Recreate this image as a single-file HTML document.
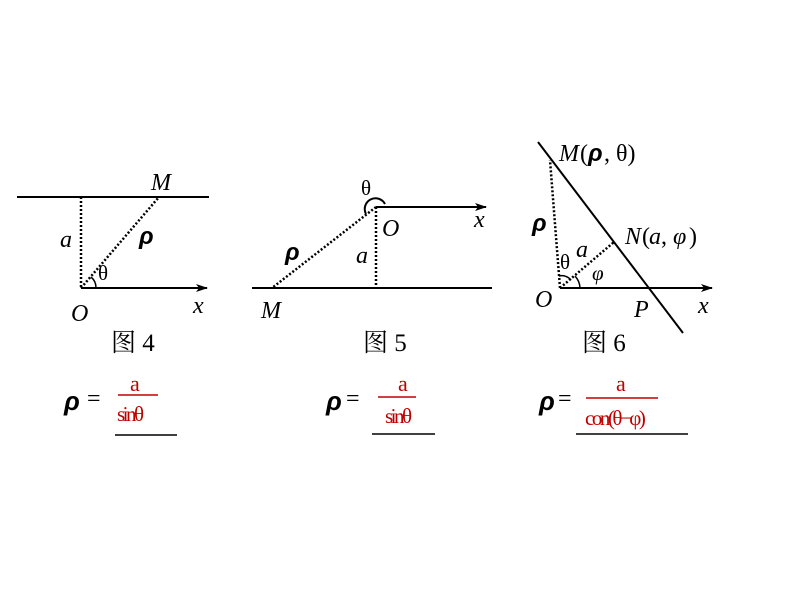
<!DOCTYPE html>
<html><head><meta charset="utf-8"><style>
html,body{margin:0;padding:0;background:#fff;}
svg{display:block;}
text{font-family:"Liberation Serif","Noto Serif CJK SC",serif;}
.i{font-style:italic;}
.r{fill:#c00000;}
.p{font-family:"Liberation Sans",sans-serif;font-weight:bold;font-style:italic;}
</style></head><body>
<svg width="794" height="596" viewBox="0 0 794 596" xmlns="http://www.w3.org/2000/svg">
<defs><marker id="ar" markerWidth="12" markerHeight="8" refX="11" refY="4" orient="auto" markerUnits="userSpaceOnUse"><path d="M0,0 L12,4 L0,8 L3,4 Z" fill="#000"/></marker></defs>
<g stroke="#000" stroke-width="2" fill="none">
<line x1="17" y1="197" x2="209" y2="197"/>
<line x1="81" y1="288" x2="207" y2="288" marker-end="url(#ar)"/>
<line x1="81" y1="197" x2="81" y2="288" stroke-dasharray="2,2" stroke-width="2.5"/>
<line x1="81" y1="288" x2="159" y2="197" stroke-dasharray="2,2" stroke-width="2.5"/>
<path d="M91,277 A14,14 0 0 1 96,288" stroke-width="1.5"/>
<line x1="252" y1="288" x2="492" y2="288"/>
<line x1="376" y1="207" x2="486" y2="207" marker-end="url(#ar)"/>
<line x1="376" y1="207" x2="376" y2="288" stroke-dasharray="2,2" stroke-width="2.5"/>
<line x1="376" y1="207" x2="272" y2="288" stroke-dasharray="2,2" stroke-width="2.5"/>
<path d="M366,214 A10,10 0 0 1 385,204" stroke-width="2"/>
<line x1="538" y1="142" x2="683" y2="333"/>
<line x1="560" y1="288" x2="712" y2="288" marker-end="url(#ar)"/>
<line x1="560" y1="288" x2="550" y2="160" stroke-dasharray="2,2" stroke-width="2.5"/>
<line x1="560" y1="288" x2="614" y2="242" stroke-dasharray="2,2" stroke-width="2.5"/>
<path d="M559,276 A12,12 0 0 1 571,280" stroke-width="1.5"/>
<path d="M575,276 A19,19 0 0 1 580,288" stroke-width="1.5"/>
<line x1="118" y1="395" x2="158" y2="395" stroke="#c00000" stroke-width="1.5"/>
<line x1="115" y1="435" x2="177" y2="435" stroke-width="1.5"/>
<line x1="378" y1="397" x2="416" y2="397" stroke="#c00000" stroke-width="1.5"/>
<line x1="372" y1="434" x2="435" y2="434" stroke-width="1.5"/>
<line x1="586" y1="398" x2="658" y2="398" stroke="#c00000" stroke-width="1.5"/>
<line x1="576" y1="434" x2="688" y2="434" stroke-width="1.5"/>
</g>
<g font-size="24">
<text x="151" y="190" class="i">M</text>
<text x="60" y="247" class="i">a</text>
<text x="139" y="244" class="p">ρ</text>
<text x="98" y="280" font-size="21">θ</text>
<text x="71" y="321" class="i">O</text>
<text x="193" y="313" class="i">x</text>
<text x="111" y="351" font-size="25">图 4</text>
<text x="64" y="410" font-size="26" class="p">ρ</text><text x="87" y="406">=</text>
<text x="130" y="391" class="r" font-size="22">a</text>
<text x="117" y="421" class="r" font-size="21" letter-spacing="-2.5">sinθ</text>

<text x="361" y="195" font-size="21">θ</text>
<text x="382" y="236" class="i">O</text>
<text x="474" y="227" class="i">x</text>
<text x="356" y="263" class="i">a</text>
<text x="285" y="260" class="p">ρ</text>
<text x="261" y="318" class="i">M</text>
<text x="363" y="351" font-size="25">图 5</text>
<text x="326" y="410" font-size="26" class="p">ρ</text><text x="346" y="406">=</text>
<text x="398" y="391" class="r" font-size="22">a</text>
<text x="385" y="423" class="r" font-size="21" letter-spacing="-2.5">sinθ</text>

<text x="559" y="161" class="i">M</text><text x="580" y="161">(</text><text x="588" y="161" class="p">ρ</text><text x="604" y="161">, θ)</text>
<text x="625" y="244" class="i">N</text><text x="642" y="244">(</text><text x="649" y="244" class="i">a</text><text x="661" y="244">, </text><text x="673" y="244" class="i">φ</text><text x="689" y="244">)</text>
<text x="532" y="231" class="p">ρ</text>
<text x="560" y="269" font-size="21">θ</text>
<text x="576" y="257" class="i">a</text>
<text x="592" y="280" class="i" font-size="21">φ</text>
<text x="535" y="307" class="i">O</text>
<text x="634" y="317" class="i">P</text>
<text x="698" y="313" class="i">x</text>
<text x="582" y="351" font-size="25">图 6</text>
<text x="539" y="410" font-size="26" class="p">ρ</text><text x="558" y="406">=</text>
<text x="616" y="391" class="r" font-size="22">a</text>
<text x="585" y="425" class="r" font-size="21" letter-spacing="-2.5">con(θ−φ)</text>
</g>
</svg>
</body></html>
